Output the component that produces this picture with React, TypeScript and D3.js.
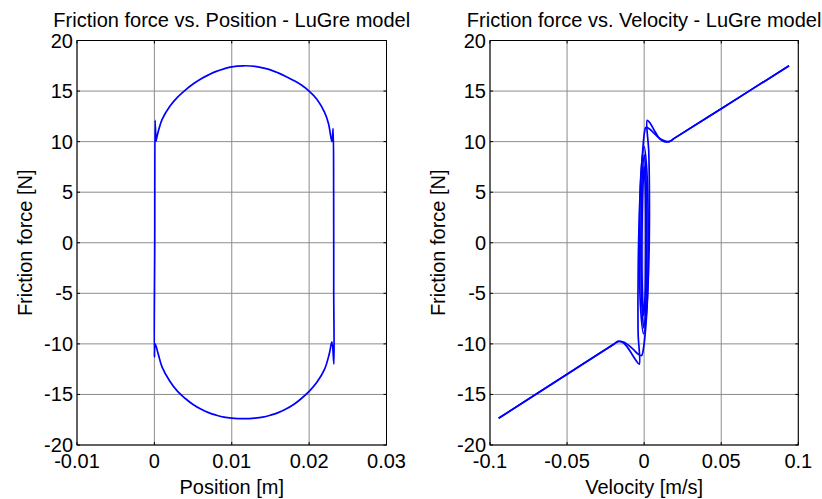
import React from "react";
import * as d3 from "d3";

// ---------- Data ----------
const yTicks = [-20, -15, -10, -5, 0, 5, 10, 15, 20];
const posTicks = [-0.01, 0, 0.01, 0.02, 0.03];
const posTickLabels = ["-0.01", "0", "0.01", "0.02", "0.03"];
const velTicks = [-0.1, -0.05, 0, 0.05, 0.1];
const velTickLabels = ["-0.1", "-0.05", "0", "0.05", "0.1"];

// Friction vs position: one closed cycle [position m, force N]
const posCycle: [number, number][] = [
  [0.0002, 10.0], [0.0005, 11.0], [0.001, 12.2], [0.002, 13.5], [0.003, 14.4],
  [0.004, 15.1], [0.005, 15.7], [0.006, 16.2], [0.007, 16.6], [0.008, 16.95],
  [0.009, 17.2], [0.010, 17.4], [0.0115, 17.5], [0.013, 17.45], [0.014, 17.3],
  [0.015, 17.1], [0.016, 16.8], [0.017, 16.45], [0.018, 16.05], [0.019, 15.6],
  [0.020, 15.0], [0.021, 14.2], [0.022, 12.9], [0.0225, 11.8], [0.02295, 10.0],
  [0.0231, 11.3], [0.02317, 5.0], [0.02318, -5.0], [0.0232, -12.0], [0.02295, -9.8],
  [0.0226, -11.0], [0.022, -12.5], [0.021, -13.8], [0.020, -14.7], [0.019, -15.4],
  [0.018, -16.0], [0.017, -16.45], [0.016, -16.8], [0.015, -17.05], [0.014, -17.25],
  [0.013, -17.35], [0.0115, -17.4], [0.010, -17.35], [0.009, -17.25], [0.008, -17.05],
  [0.007, -16.8], [0.006, -16.45], [0.005, -16.0], [0.004, -15.4], [0.003, -14.7],
  [0.002, -13.7], [0.001, -12.3], [0.0005, -11.0], [0.0001, -10.0],
  [0.0, -11.3], [0.00005, 0.0], [0.0001, 12.1], [0.0002, 10.0],
];

// Friction vs velocity: decreasing-velocity pass [velocity m/s, force N]
const velPassDown: [number, number][] = [
  [0.094, 17.5], [0.05, 13.26], [0.02, 10.37], [0.0162, 10.0],
  [0.012, 10.15], [0.009, 10.45], [0.006, 10.9], [0.003, 11.3], [0.0011, 11.4],
  [0.0003, 11.0], [-0.0010, 9.0], [-0.0026, 5.0], [-0.0036, 0.0], [-0.0040, -5.0],
  [-0.0039, -9.0], [-0.0032, -12.0], [-0.0055, -11.6], [-0.008, -11.0],
  [-0.011, -10.3], [-0.014, -9.85], [-0.0168, -9.75], [-0.02, -10.06],
  [-0.05, -13.0], [-0.0944, -17.35],
];
// increasing-velocity pass
const velPassUp: [number, number][] = [
  [-0.0944, -17.35], [-0.05, -13.0], [-0.02, -10.06], [-0.0168, -9.75],
  [-0.013, -9.85], [-0.010, -10.15], [-0.007, -10.55], [-0.004, -11.0], [-0.0017, -11.16],
  [-0.0003, -10.3], [0.0012, -8.0], [0.0026, -4.0], [0.0033, 0.0], [0.0034, 5.0],
  [0.0030, 9.0], [0.0020, 12.1], [0.004, 11.8], [0.007, 11.0], [0.010, 10.3],
  [0.013, 10.0], [0.0162, 10.0], [0.02, 10.37], [0.05, 13.26], [0.094, 17.5],
];
// inner oscillation loops around zero velocity
const velLoopA: [number, number][] = [
  [0.0, 9.5], [0.0018, 7.0], [0.0026, 0.0], [0.0017, -6.5], [-0.0004, -9.0],
  [-0.0023, -6.5], [-0.0030, 0.0], [-0.0020, 7.0],
];
const velLoopB: [number, number][] = [
  [0.0001, 8.7], [0.0012, 6.3], [0.0017, 0.0], [0.0011, -6.0], [-0.0003, -8.4],
  [-0.0015, -6.0], [-0.0021, 0.0], [-0.0013, 6.3],
];
const velLoopC: [number, number][] = [
  [0.0, 7.6], [0.0007, 5.5], [0.001, 0.0], [0.0006, -5.2], [-0.0003, -7.2],
  [-0.0011, -5.2], [-0.0014, 0.0], [-0.0008, 5.5],
];

// ---------- Layout ----------
const W = 822;
const H = 499;
const top = 40.5;
const bottom = 445;
const FONT = "'Liberation Sans', Arial, Helvetica, sans-serif";
const FS = 20;
const BLUE = "#0000ff";

type PanelProps = {
  x0: number;
  x1: number;
  xDomain: [number, number];
  xTicks: number[];
  xLabels: string[];
  title: string;
  xLabel: string;
  series: { pts: [number, number][]; closed?: boolean }[];
  id: string;
};

function Panel({ x0, x1, xDomain, xTicks, xLabels, title, xLabel, series, id }: PanelProps) {
  const xs = d3.scaleLinear().domain(xDomain).range([x0, x1]);
  const ys = d3.scaleLinear().domain([-20, 20]).range([bottom, top]);
  const line = d3
    .line<[number, number]>()
    .x((d) => xs(d[0]))
    .y((d) => ys(d[1]))
    .curve(d3.curveCatmullRom.alpha(0.5));
  const closedLine = d3
    .line<[number, number]>()
    .x((d) => xs(d[0]))
    .y((d) => ys(d[1]))
    .curve(d3.curveCatmullRomClosed.alpha(0.5));
  const tickLen = 3;
  const cx = (x0 + x1) / 2;
  const cy = (top + bottom) / 2;
  return (
    <g>
      <defs>
        <clipPath id={id}>
          <rect x={x0} y={top} width={x1 - x0} height={bottom - top} />
        </clipPath>
      </defs>
      <rect x={x0} y={top} width={x1 - x0} height={bottom - top} fill="#fff" />
      {/* grid */}
      {xTicks.map((t, i) => (
        <line key={"gx" + i} x1={xs(t)} x2={xs(t)} y1={top} y2={bottom} stroke="#8c8c8c" strokeWidth={1} />
      ))}
      {yTicks.map((t, i) => (
        <line key={"gy" + i} x1={x0} x2={x1} y1={ys(t)} y2={ys(t)} stroke="#8c8c8c" strokeWidth={1} />
      ))}
      {/* data */}
      <g clipPath={`url(#${id})`}>
        {series.map((s, i) => (
          <path
            key={"s" + i}
            d={(s.closed ? closedLine(s.pts) : line(s.pts)) || ""}
            fill="none"
            stroke={BLUE}
            strokeWidth={1.7}
            strokeLinejoin="round"
          />
        ))}
      </g>
      {/* ticks */}
      {xTicks.map((t, i) => (
        <g key={"tx" + i}>
          <line x1={xs(t)} x2={xs(t)} y1={bottom} y2={bottom - tickLen} stroke="#000" />
          <line x1={xs(t)} x2={xs(t)} y1={top} y2={top + tickLen} stroke="#000" />
        </g>
      ))}
      {yTicks.map((t, i) => (
        <g key={"ty" + i}>
          <line x1={x0} x2={x0 + tickLen} y1={ys(t)} y2={ys(t)} stroke="#000" />
          <line x1={x1} x2={x1 - tickLen} y1={ys(t)} y2={ys(t)} stroke="#000" />
        </g>
      ))}
      {/* box */}
      <rect x={x0} y={top} width={x1 - x0} height={bottom - top} fill="none" stroke="#000" strokeWidth={1} />
      {/* tick labels */}
      {xTicks.map((t, i) => (
        <text key={"lx" + i} x={xs(t)} y={468} textAnchor="middle" fontFamily={FONT} fontSize={FS} fill="#000">
          {xLabels[i]}
        </text>
      ))}
      {yTicks.map((t, i) => (
        <text key={"ly" + i} x={x0 - 4} y={ys(t)} dy="0.35em" textAnchor="end" fontFamily={FONT} fontSize={FS} fill="#000">
          {String(t)}
        </text>
      ))}
      {/* labels */}
      <text x={cx} y={27} textAnchor="middle" fontFamily={FONT} fontSize={FS} fill="#000">
        {title}
      </text>
      <text x={cx} y={494} textAnchor="middle" fontFamily={FONT} fontSize={FS} fill="#000">
        {xLabel}
      </text>
      <text
        transform={`translate(${x0 - 45},${cy}) rotate(-90)`}
        textAnchor="middle"
        fontFamily={FONT}
        fontSize={FS}
        fill="#000"
      >
        Friction force [N]
      </text>
    </g>
  );
}

export default function App() {
  return (
    <svg
      width={W}
      height={H}
      viewBox={`0 0 ${W} ${H}`}
      style={{ position: "absolute", left: 0, top: 0, background: "#fff" }}
    >
      <rect x={0} y={0} width={W} height={H} fill="#fff" />
      <Panel
        id="clipPos"
        x0={77}
        x1={386.5}
        xDomain={[-0.01, 0.03]}
        xTicks={posTicks}
        xLabels={posTickLabels}
        title="Friction force vs. Position - LuGre model"
        xLabel="Position [m]"
        series={[{ pts: posCycle }]}
      />
      <Panel
        id="clipVel"
        x0={490}
        x1={798.3}
        xDomain={[-0.1, 0.1]}
        xTicks={velTicks}
        xLabels={velTickLabels}
        title="Friction force vs. Velocity - LuGre model"
        xLabel="Velocity [m/s]"
        series={[
          { pts: velPassDown },
          { pts: velPassUp },
          { pts: velLoopA, closed: true },
          { pts: velLoopB, closed: true },
          { pts: velLoopC, closed: true },
        ]}
      />
    </svg>
  );
}
